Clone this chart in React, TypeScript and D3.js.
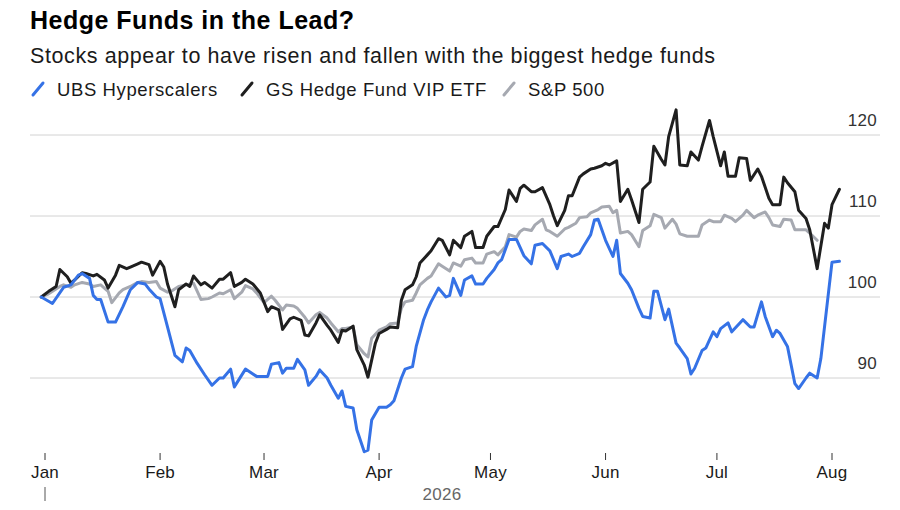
import * as d3 from 'd3';

// [days since Jan 1 2026, index level]
const ubsHyperscalers: [number, number][] = [
  [-1,100],[2,99.2],[5,101.2],[7,101.5],[9,102.7],[10,102.9],[12,102.3],[13,100.2],[14,99.7],[15,99.7],[17,96.9],[19,96.9],[21,98.8],[23,100.9],[25,101.8],[27,101.6],[28,101],[30,100],[31,99.8],[33,96.3],[35,92.8],[37,92],[38,93.7],[39,93.4],[41,91.8],[43,90.4],[45,89.1],[47,90],[48,90],[50,91.1],[51,88.9],[54,91.1],[57,90.2],[60,90.2],[61,91.7],[63,91.9],[64,90.6],[65,91.2],[67,91.2],[68,92.3],[70,91],[71,89.1],[73,90.2],[74,91],[76,90],[77,89.1],[79,87.5],[80,88.4],[81,86.5],[83,86.3],[84,83.6],[86,80.9],[87,81.1],[88,84.8],[90,86.4],[92,86.4],[93,86.7],[94,87.2],[96,90],[97,91.1],[99,91.4],[100,93.9],[102,97.2],[103,98.4],[104,99.4],[106,101.1],[108,100],[109,100.2],[110,102.3],[112,100.2],[113,102.1],[115,102.6],[116,101.6],[118,101.6],[119,102.3],[121,103.4],[122,104.2],[123,104.6],[125,107.1],[126,107.1],[127,107.1],[129,105.1],[131,104.1],[132,106.4],[134,106.6],[136,105.7],[138,103.5],[139,105],[141,105.3],[142,105],[144,105.4],[145,106.2],[147,107.7],[148,109.5],[149,109.6],[151,107],[153,105],[154,107],[155,102.9],[157,101.7],[158,100.9],[160,98.6],[161,97.6],[163,97.4],[164,100.7],[165,100.7],[167,97.2],[168,98.5],[170,94.3],[171,93.7],[173,92.4],[174,90.5],[175,91.2],[177,93.4],[178,93.7],[180,95.7],[181,95.1],[182,96.1],[184,96.8],[185,95.7],[187,96.7],[188,97.2],[190,96.3],[191,96.3],[193,99.4],[194,97.6],[196,95.1],[197,95.9],[198,95.5],[200,93.9],[202,89.3],[203,88.7],[205,90],[206,90.6],[208,90],[209,92.4],[212,104.3],[214,104.4],
];

const gsHedgeFundVip: [number, number][] = [
  [-1,100],[1,100.7],[3,101.3],[4,103.4],[6,102.5],[7,101.7],[8,102.1],[10,103],[11,102.9],[13,102.6],[14,102.8],[16,102.1],[17,101.1],[19,102.7],[20,103.9],[22,103.5],[23,103.7],[25,104.1],[26,104.3],[28,104],[29,102.7],[31,104.4],[32,103.7],[33,101.6],[35,98.8],[36,100.9],[38,101.6],[39,101.3],[40,102.6],[42,101.5],[43,101.8],[45,101.1],[47,102.2],[48,102.2],[50,103],[51,101.3],[53,101.8],[54,102.2],[56,101.6],[58,100.5],[60,98.2],[61,98.8],[63,98.4],[64,96],[66,97.3],[67,97.5],[69,97.1],[70,95.3],[71,95.2],[73,96.8],[74,97.8],[76,96.5],[77,95.9],[79,94.4],[80,95.9],[81,95.8],[83,96.4],[84,93.5],[86,91.6],[87,90.1],[89,94.3],[90,95.5],[92,96],[93,96.3],[95,96.2],[96,99.6],[97,100.9],[99,101.5],[100,102.5],[101,104.2],[103,105.2],[104,105.7],[106,107.2],[107,107],[109,105.2],[110,107],[112,106.1],[113,107.5],[115,108.1],[116,106.1],[118,106.1],[119,107.5],[121,108.7],[122,108.7],[124,110.8],[125,113.2],[127,111.8],[128,113.4],[129,113.8],[131,113],[132,113],[134,113.5],[136,111.4],[137,110],[138,108.8],[140,110.7],[141,112.5],[142,112.5],[144,114.8],[145,115.2],[147,115.8],[148,115.9],[150,116.2],[151,116.5],[152,116.3],[154,116.8],[155,111.8],[157,113.3],[158,112],[160,109.2],[161,113.3],[163,114.2],[164,118.6],[166,117],[167,116.3],[168,119.8],[170,123.1],[171,116.3],[173,116.2],[174,117.9],[176,116.9],[177,118.6],[179,121.8],[180,119.8],[182,116.2],[183,117.9],[184,114.9],[186,114.9],[187,117.2],[189,117.1],[190,114.4],[192,115.8],[193,114.9],[195,112.2],[196,111.4],[198,111.4],[199,114.8],[200,114.1],[202,113],[203,110.7],[205,109.7],[206,108.3],[208,103.5],[210,109.1],[211,108.5],[212,111.4],[214,113.3],
];

const sp500: [number, number][] = [
  [-1,100],[1,100.4],[4,101.3],[5,101.5],[7,101.2],[8,101.5],[10,101.8],[12,101.6],[13,101.3],[15,101.5],[17,100.7],[18,99.3],[20,100.5],[21,100.9],[23,101.3],[25,101.8],[26,101.9],[28,101.8],[30,101.9],[31,101.1],[33,100.6],[34,100.7],[36,101.3],[38,101.5],[40,101.7],[42,99.7],[44,99.8],[45,100],[47,100.5],[48,100.4],[50,100.9],[51,99.8],[53,100.6],[54,101.4],[56,101],[57,100.5],[59,99.3],[61,100.1],[62,99.6],[64,98.4],[65,99],[67,98.9],[68,98.6],[70,97.5],[71,96.8],[73,97.8],[74,98.1],[76,97.4],[77,96.8],[79,95.7],[80,96.1],[81,96.1],[83,96.3],[84,94.1],[86,93],[87,92.6],[88,94.9],[90,95.9],[92,96.3],[93,96.7],[95,96.8],[96,98.6],[97,99.4],[99,99.6],[100,100.5],[101,101.5],[103,102.3],[104,102.6],[106,104.1],[107,103.8],[109,103.2],[110,104.2],[112,103.8],[113,104.6],[115,104.8],[116,104.2],[118,104.2],[119,105.3],[121,105.6],[122,105.2],[124,106.2],[125,107.7],[127,107.4],[128,108.1],[129,108.4],[131,108.2],[132,108.9],[134,109.6],[135,108.3],[136,108.1],[138,107.5],[140,108.4],[141,108.6],[143,109.1],[144,109.8],[146,109.9],[147,110.4],[149,110.8],[150,111.1],[152,111.2],[153,110.4],[154,110.7],[155,107.9],[157,108.1],[158,107.7],[160,106.2],[161,108.2],[163,108.8],[164,110.2],[166,109.8],[167,108.5],[169,109.6],[170,109],[171,107.8],[173,107.5],[176,107.5],[177,108.9],[179,109.5],[180,109.3],[182,109.3],[183,110.1],[185,109.7],[186,109.3],[188,110.1],[189,110.7],[191,109.8],[192,110.1],[194,110.5],[195,109.8],[196,108.9],[198,108.7],[199,109.6],[201,109.5],[202,108.3],[204,108.3],[205,108.3],[206,107.9],[208,107],
];

const monthLabels = ['Jan', 'Feb', 'Mar', 'Apr', 'May', 'Jun', 'Jul', 'Aug'];
const yTicks = [90, 100, 110, 120];
const yearLabel = '2026';

const series = [
  { name: 'UBS Hyperscalers', color: '#3572e6', data: ubsHyperscalers },
  { name: 'GS Hedge Fund VIP ETF', color: '#1f1f1f', data: gsHedgeFundVip },
  { name: 'S&P 500', color: '#a6a9b1', data: sp500 },
];

const width = 900;
const height = 510;
const font = '"Liberation Sans", Arial, Helvetica, sans-serif';
const start = new Date(2026, 0, 1);

export default function App() {
  const toDate = (d: number) => d3.timeDay.offset(start, d);

  const x = d3.scaleTime()
    .domain([start, new Date(2026, 7, 1)])
    .range([45, 832]);

  const y = d3.scaleLinear()
    .domain([90, 120])
    .range([378, 135]);

  const line = d3.line<[number, number]>()
    .x(d => x(toDate(d[0])))
    .y(d => y(d[1]));

  const months = d3.timeMonth.range(start, new Date(2026, 7, 2));

  // legend item offsets
  const legendX = [31, 240, 502];

  // grey first, blue on top
  const drawOrder = [series[2], series[1], series[0]];

  return (
    <svg width={width} height={height} style={{ position: 'absolute', left: 0, top: 0, background: '#fff' }} fontFamily={font}>
      <text x={30} y={29} fontSize={25} fontWeight={700} letterSpacing={0.5} fill="#000">Hedge Funds in the Lead?</text>
      <text x={30} y={63} fontSize={21.5} letterSpacing={0.6} fill="#1a1a1a">Stocks appear to have risen and fallen with the biggest hedge funds</text>

      {series.map((s, i) => (
        <g key={s.name} transform={`translate(${legendX[i]},0)`}>
          <line x1={2} y1={95} x2={12} y2={83} stroke={s.color} strokeWidth={3} strokeLinecap="round" />
          <text x={26} y={96} fontSize={18.5} letterSpacing={0.6} fill="#1a1a1a">{s.name}</text>
        </g>
      ))}

      {yTicks.map(t => (
        <g key={t}>
          <line x1={30} x2={880} y1={y(t)} y2={y(t)} stroke="#d2d2d2" strokeWidth={1} />
          <text x={877} y={y(t) - 9} fontSize={17} letterSpacing={0.3} textAnchor="end" fill="#333">{t}</text>
        </g>
      ))}

      {drawOrder.map(s => (
        <path key={s.name} d={line(s.data) || ''} fill="none" stroke={s.color}
          strokeWidth={3} strokeLinejoin="round" strokeLinecap="round" />
      ))}

      {months.map((m, i) => (
        <g key={i} transform={`translate(${x(m)},0)`}>
          <line y1={453} y2={460} stroke="#333" strokeWidth={1} />
          <text y={478} fontSize={17} letterSpacing={0.2} textAnchor="middle" fill="#1a1a1a">{monthLabels[i]}</text>
        </g>
      ))}
      <line x1={x(start)} x2={x(start)} y1={487} y2={501} stroke="#555" strokeWidth={1} />
      <text x={442} y={500} fontSize={17} letterSpacing={0.3} textAnchor="middle" fill="#666">{yearLabel}</text>
    </svg>
  );
}
